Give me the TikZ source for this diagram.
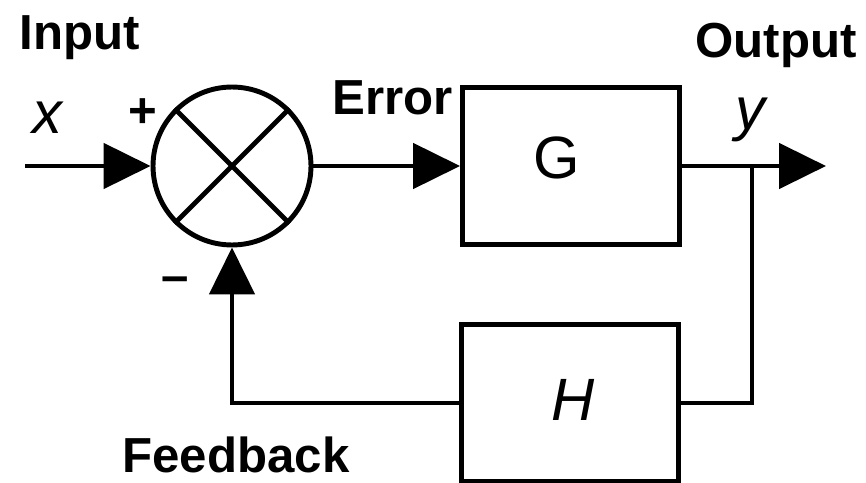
\documentclass[tikz,border=0pt]{standalone}
\usepackage{fontspec}
\setmainfont{Liberation Sans}
\usetikzlibrary{arrows.meta}
\begin{document}
\begin{tikzpicture}[x=0.02cm,y=-0.02cm,
  line width=2.8pt,
  blk/.style={draw, rectangle, minimum width=4.34cm, minimum height=3.14cm, inner sep=0pt},
  lbl/.style={font=\bfseries\fontsize{28}{28}\selectfont, inner sep=0pt},
  var/.style={font=\fontsize{34}{34}\selectfont, inner sep=0pt},
  arr/.style={-{Triangle[length=0.94cm,width=0.9cm]}}]
\useasboundingbox (0,0) rectangle (866,483);
% blocks
\node[draw, circle, minimum size=3.16cm, inner sep=0pt] (sum) at (232,166) {};
\draw (sum.135) -- (sum.-45);
\draw (sum.45) -- (sum.-135);
\node[blk] (G) at (571,166) {};
\node[blk] (H) at (570,403) {};
\node[var] (Gl) at (557,158) {G};
\node[var] (Hl) at (573,400) {\itshape H};
% connectors
\coordinate (in) at (25,166);
\coordinate (out) at (826,166);
\coordinate (j) at (752,166);
\draw[arr] (in) -- (sum.west);
\draw[arr] (sum.east) -- (G.west);
\draw[arr] (G.east) -- (out);
\draw (j) |- (H.east);
\draw[arr] (H.west) -| (sum.south);
% labels
\node[lbl, anchor=base west] (inlbl) at (17,50) {Input};
\node[lbl, anchor=base west] (errlbl) at (330,115) {Error};
\node[lbl, anchor=base west] (outlbl) at (693,58) {Output};
\node[lbl, anchor=base west] (fblbl) at (120,472) {Feedback};
\node[var, anchor=base] (xl) at (47,133) {\itshape x};
\node[var, anchor=base] (yl) at (750,130) {\itshape y};
\node[lbl] (plus) at (143,113) {+};
\node[lbl] (minus) at (175,285) {–};
\end{tikzpicture}
\end{document}
